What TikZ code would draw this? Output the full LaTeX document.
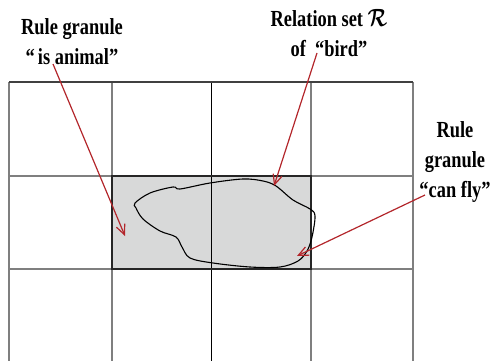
\documentclass[tikz,border=0pt]{standalone}
\usepackage{fontspec}
\setmainfont{Liberation Serif}
\usetikzlibrary{arrows.meta}
\definecolor{arr}{HTML}{B3262B}
\definecolor{cellgray}{HTML}{D8D9D9}
\definecolor{gline}{HTML}{7F7F7F}
\begin{document}
\begin{tikzpicture}[x=1pt,y=-1pt,
  lbl/.style={font=\bfseries\fontsize{23}{30}\selectfont, align=center, inner sep=0pt, xscale=0.8},
  arrline/.style={draw=arr, line width=1.2pt, -{Straight Barb[length=10pt,width=9pt,line width=1.2pt]}},
  gridl/.style={draw=gline, line width=1.2pt},
  darkl/.style={draw=black, line width=0.9pt}]
\useasboundingbox (0,0) rectangle (492,361);
% shaded cells
\fill[cellgray] (112,176) rectangle (311,269);
% grid
\draw[gridl] (9,82) -- (9,361);
\draw[gridl] (112,82) -- (112,361);
\draw[darkl] (211,82) -- (211,361);
\draw[gridl] (311,82) -- (311,361);
\draw[gridl] (413,82) -- (413,361);
\draw[draw=black!75, line width=1.2pt] (9,82) -- (413,82);
\draw[gridl] (9,176) -- (413,176);
\draw[gridl] (9,269) -- (413,269);
\draw[draw=black!85, line width=1.3pt] (112,176) rectangle (311,269);
% blob
\draw[black, line width=1.1pt] plot[smooth cycle, tension=0.55] coordinates {
 (135,203) (150,193) (173,187) (180,189) (210,183) (243,179) (263,181) (276,186)
 (293,200) (310,209) (315,216) (312,237) (307,251) (298,261) (280,267) (250,267)
 (213,263) (190,258) (182,247) (176,237) (160,231) (143,219) (136,208)};
% labels
\node[lbl] (animal) at (72,42) {Rule granule\\“\,is animal”};
\node[lbl] (bird) at (329,33) {Relation set {\boldmath$\mathcal{R}$}\\of\ \ “bird”};
\node[lbl] (fly) at (455,162) {Rule\\granule\\“can fly”};
\coordinate (sA) at (53,64);
\coordinate (sB) at (317,53);
\coordinate (sC) at (425,195);
\coordinate (pA) at (125,236);
\coordinate (pB) at (274,186);
\coordinate (pC) at (297,256);
\draw[arrline] (sA) -- (pA);
\draw[arrline] (sB) -- (pB);
\draw[arrline] (sC) -- (pC);
\end{tikzpicture}
\end{document}
